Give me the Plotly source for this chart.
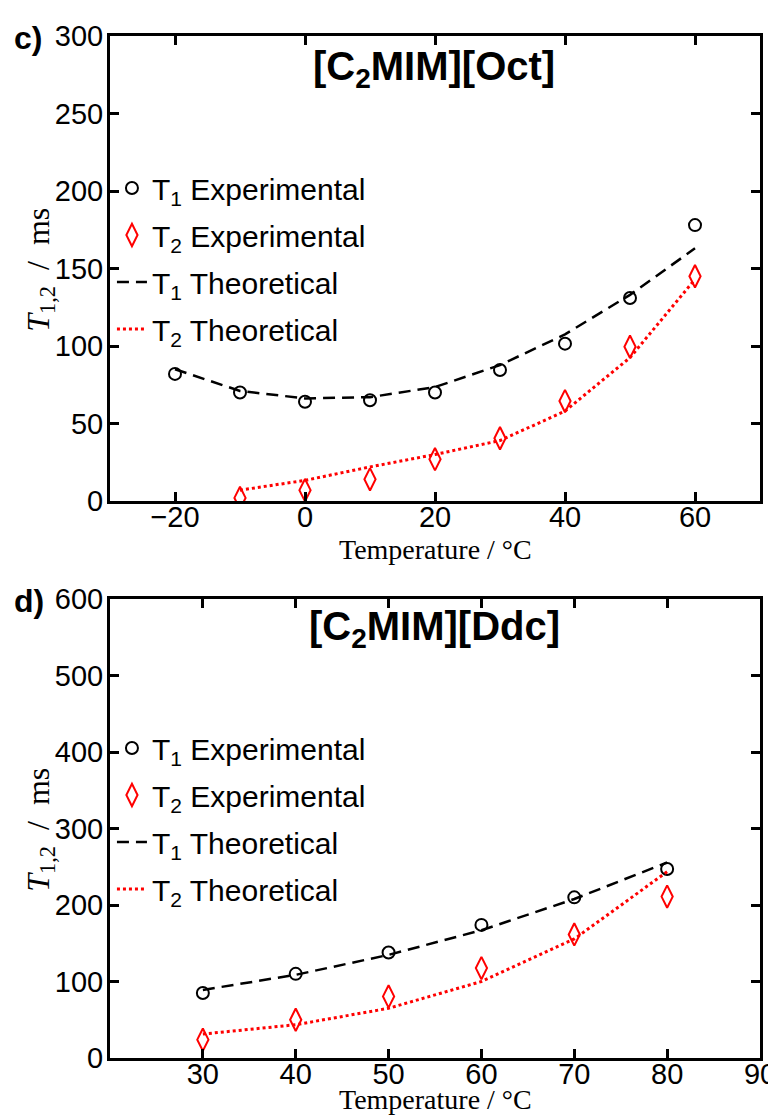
import plotly.graph_objects as go

# ---- Panel c) [C2MIM][Oct]
temp_c = [-20, -10, 0, 10, 20, 30, 40, 50, 60]
t1_exp_c = [82, 70, 64, 65, 70, 84.5, 101.5, 131, 178]
t1_theo_c = [85, 71, 66.2, 67, 73.5, 87.7, 107.5, 133, 163]
temp2_c = [-10, 0, 10, 20, 30, 40, 50, 60]
t2_exp_c = [2, 7, 14, 27, 40.5, 64.5, 99.5, 145]
t2_theo_c = [7, 13.3, 22, 30, 39, 58, 92.5, 143]

# ---- Panel d) [C2MIM][Ddc]
temp_d = [30, 40, 50, 60, 70, 80]
t1_exp_d = [85, 110, 138, 174, 210, 247]
t1_theo_d = [89, 108.7, 134.8, 167, 207.8, 255.6]
t2_exp_d = [24, 50, 80.5, 117.5, 161.5, 211]
t2_theo_d = [31.3, 43.5, 65, 100, 155.6, 243.5]

xticks_c = [-20, 0, 20, 40, 60]
xticklabels_c = ["\u221220", "0", "20", "40", "60"]
yticks_c = [0, 50, 100, 150, 200, 250, 300]
xticks_d = [30, 40, 50, 60, 70, 80, 90]
yticks_d = [0, 100, 200, 300, 400, 500, 600]

SANS = "Liberation Sans, Arial, Helvetica, sans-serif"
SERIF = "Liberation Serif, Times New Roman, serif"

fig = go.Figure()

def add_panel(xa, ya, leg, tx, t1e, t1t, tx2, t2e, t2t):
    fig.add_trace(go.Scatter(x=tx, y=t1e, mode="markers", name="T<sub>1</sub> Experimental",
                             marker=dict(symbol="circle-open", size=12, color="black", line=dict(width=2)),
                             xaxis=xa, yaxis=ya, legend=leg, legendgroup=leg + "a"))
    fig.add_trace(go.Scatter(x=tx2, y=t2e, mode="markers", name="T<sub>2</sub> Experimental",
                             marker=dict(symbol="diamond-tall-open", size=16, color="red", line=dict(width=2)),
                             xaxis=xa, yaxis=ya, legend=leg, legendgroup=leg + "b"))
    fig.add_trace(go.Scatter(x=tx, y=t1t, mode="lines", name="T<sub>1</sub> Theoretical",
                             line=dict(color="black", dash="12px,7px", width=2.5),
                             xaxis=xa, yaxis=ya, legend=leg, legendgroup=leg + "c"))
    fig.add_trace(go.Scatter(x=tx2, y=t2t, mode="lines", name="T<sub>2</sub> Theoretical",
                             line=dict(color="red", dash="3px,3px", width=3),
                             xaxis=xa, yaxis=ya, legend=leg, legendgroup=leg + "d"))

add_panel("x", "y", "legend", temp_c, t1_exp_c, t1_theo_c, temp2_c, t2_exp_c, t2_theo_c)
add_panel("x2", "y2", "legend2", temp_d, t1_exp_d, t1_theo_d, temp_d, t2_exp_d, t2_theo_d)

H = 1115
T, B = 28, 65
ph = H - T - B

def py(pix):
    return (H - B - pix) / ph

def px(pix):
    return (pix - 102) / 666

axis_common = dict(showline=True, linecolor="black", linewidth=3, mirror="ticks",
                   ticks="inside", ticklen=9, tickwidth=2.5, tickcolor="black",
                   showgrid=False, zeroline=False, ticklabeloverflow="allow",
                   tickfont=dict(family=SANS, size=29, color="black"))

fig.update_layout(
    width=776, height=H,
    margin=dict(l=102, r=8, t=T, b=B),
    paper_bgcolor="white", plot_bgcolor="white",
    xaxis=dict(domain=[0, 1], anchor="y", range=[-30, 70], tickvals=xticks_c, ticktext=xticklabels_c,
               ticklabelstandoff=-12, **axis_common),
    yaxis=dict(domain=[py(493), 1], anchor="x", range=[0, 300], tickvals=yticks_c,
               ticklabelstandoff=-2, **axis_common),
    xaxis2=dict(domain=[0, 1], anchor="y2", range=[20, 90], tickvals=xticks_d,
                ticklabelstandoff=-12, **axis_common),
    yaxis2=dict(domain=[0, py(591)], anchor="x2", range=[0, 600], tickvals=yticks_d,
                ticklabelstandoff=-2, **axis_common),
    legend=dict(x=px(104), y=py(154), xanchor="left", yanchor="top", bgcolor="rgba(0,0,0,0)",
                font=dict(family=SANS, size=30, color="black"), tracegroupgap=5, itemwidth=30),
    legend2=dict(x=px(104), y=py(714), xanchor="left", yanchor="top", bgcolor="rgba(0,0,0,0)",
                 font=dict(family=SANS, size=30, color="black"), tracegroupgap=5, itemwidth=30),
    showlegend=True,
)

def note(text, xpix, ypix, size, family, angle=0, xanchor="center"):
    fig.add_annotation(text=text, x=px(xpix), xref="paper", y=py(ypix), yref="paper",
                       showarrow=False, xanchor=xanchor, yanchor="middle", textangle=angle,
                       font=dict(family=family, size=size, color="black"))

# panel titles
note("<b>[C<sub>2</sub>MIM][Oct]</b>", 434, 61, 40, SANS)
note("<b>[C<sub>2</sub>MIM][Ddc]</b>", 434, 621, 40, SANS)
# panel letters
note("<b>c)</b>", 2, 30, 32, SANS, xanchor="left")
note("<b>d)</b>", 2, 593, 32, SANS, xanchor="left")
# axis titles
xt = "Temperature / \u00b0C"
yt = "<i>T</i><sub>1,2</sub>  /  ms"
note(xt, 435, 541, 28, SERIF)
note(xt, 435, 1091, 28, SERIF)
note(yt, 30, 262, 32, SERIF, angle=-90)
note(yt, 30, 822, 32, SERIF, angle=-90)

fig.write_html("out.html")
